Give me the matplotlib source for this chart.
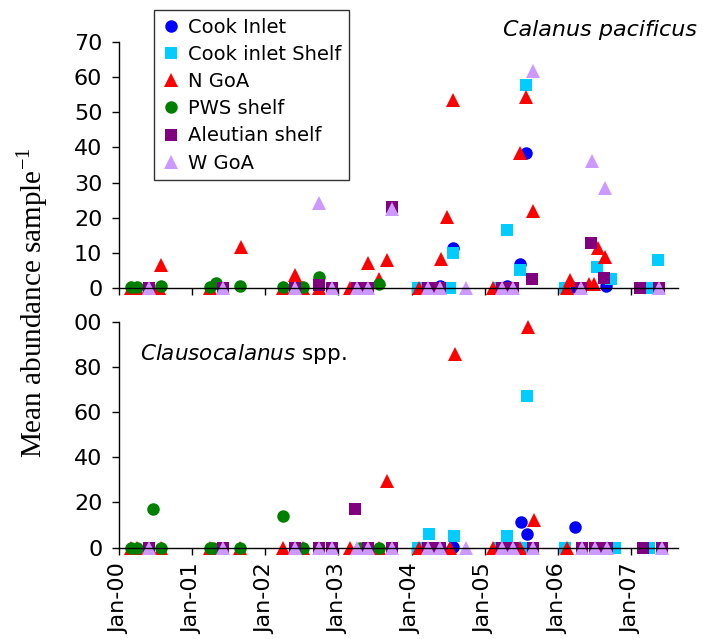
import matplotlib
matplotlib.use("Agg")
import matplotlib.pyplot as plt

plt.rcParams["font.family"] = ["DejaVu Sans"]
plt.rcParams["mathtext.fontset"] = "custom"
plt.rcParams["mathtext.rm"] = "Liberation Serif"
plt.rcParams["mathtext.it"] = "DejaVu Sans:italic"

# Sampling times (decimal years) and mean abundance per sample
# top = Calanus pacificus, bot = Clausocalanus spp.
cook_top_t = [2004.39, 2004.56, 2005.30, 2005.48, 2005.57, 2006.19, 2006.66]
cook_top_v = [0.5, 11.5, 0.7, 6.8, 38.5, 0.3, 0.5]
cook_bot_t = [2004.39, 2004.56, 2005.30, 2005.49, 2005.58, 2006.24, 2006.66]
cook_bot_v = [0, 0.5, 0, 11.5, 5.9, 9.2, 0]

shelf_top_t = [2004.09, 2004.52, 2004.56, 2005.19, 2005.31, 2005.48, 2005.56,
               2006.10, 2006.54, 2006.73, 2007.25, 2007.37]
shelf_top_v = [0, 0, 9.9, 0, 16.5, 5.1, 57.8, 0, 6.1, 2.5, 0, 8.0]
shelf_bot_t = [2004.09, 2004.24, 2004.58, 2005.19, 2005.31, 2005.53, 2005.58,
               2006.10, 2006.78, 2007.25]
shelf_bot_v = [0, 5.9, 5.3, 0, 5.3, 0, 67.1, 0, 0, 0]

ngoa_top_t = [2000.16, 2000.25, 2000.55, 2000.58, 2001.24, 2001.67, 2002.24,
              2002.41, 2002.51, 2002.74, 2003.16, 2003.40, 2003.56, 2003.66,
              2004.10, 2004.40, 2004.48, 2004.57, 2005.12, 2005.48, 2005.57,
              2005.66, 2006.13, 2006.16, 2006.42, 2006.49, 2006.55, 2006.64]
ngoa_top_v = [0, 0, 0, 6.5, 0, 11.8, 0, 3.7, 0, 0, 0, 7.2, 2.5, 8.0,
              0, 8.2, 20.3, 53.5, 0, 38.5, 54.4, 22.0, 0, 2.3, 1.2, 1.2, 11.3, 8.9]
ngoa_bot_t = [2000.16, 2000.25, 2000.57, 2001.24, 2001.66, 2002.24, 2002.51,
              2003.16, 2003.56, 2003.67, 2004.10, 2004.52, 2004.59, 2005.12,
              2005.48, 2005.59, 2005.68, 2006.13]
ngoa_bot_v = [0, 0, 0, 0, 0, 0, 0, 0, 0, 29.6, 0, 0, 85.6, 0, 0, 97.5, 12.3, 0]

pws_top_t = [2000.16, 2000.25, 2000.57, 2001.24, 2001.33, 2001.66, 2002.24,
             2002.51, 2002.74, 2003.56]
pws_top_v = [0.3, 0.3, 0.5, 0.2, 1.3, 0.5, 0.2, 0.2, 3.0, 1.1]
pws_bot_t = [2000.16, 2000.25, 2000.47, 2000.57, 2001.24, 2001.29, 2001.66,
             2002.24, 2002.51, 2003.30, 2003.56]
pws_bot_v = [0, 0, 17.0, 0, 0, 0, 0, 14.0, 0, 0, 0]

aleu_top_t = [2000.41, 2001.42, 2002.41, 2002.74, 2002.91, 2003.25, 2003.41,
              2003.73, 2004.23, 2004.39, 2005.23, 2005.39, 2005.65, 2006.32,
              2006.46, 2006.63, 2007.12, 2007.38]
aleu_top_v = [0, 0, 0, 0.9, 0, 0, 0, 23.0, 0, 0, 0, 0, 2.7, 0, 12.9, 2.8, 0, 0]
aleu_bot_t = [2000.41, 2001.42, 2002.41, 2002.74, 2002.91, 2003.23, 2003.41,
              2003.73, 2004.23, 2004.39, 2005.23, 2005.39, 2005.66, 2006.33,
              2006.51, 2006.67, 2007.16, 2007.42]
aleu_bot_v = [0, 0, 0, 0, 0, 17.0, 0, 0, 0, 0, 0, 0, 0, 0, 0, 0, 0, 0]

wgoa_top_t = [2000.41, 2001.42, 2002.41, 2002.74, 2002.91, 2003.25, 2003.41,
              2003.73, 2004.23, 2004.39, 2004.74, 2005.23, 2005.39, 2005.66,
              2006.32, 2006.47, 2006.64, 2007.38]
wgoa_top_v = [0, 0, 0, 24.1, 0, 0, 0, 22.5, 0, 0, 0, 0, 0, 61.8, 0, 36.1, 28.4, 0]
wgoa_bot_t = [2000.41, 2001.42, 2002.41, 2002.74, 2002.91, 2003.25, 2003.41,
              2003.73, 2004.23, 2004.39, 2004.74, 2005.23, 2005.39, 2005.66,
              2006.33, 2006.51, 2006.67, 2007.42]
wgoa_bot_v = [0] * len(wgoa_bot_t)

year_ticks = [2000, 2001, 2002, 2003, 2004, 2005, 2006, 2007]
year_labels = ["Jan-00", "Jan-01", "Jan-02", "Jan-03", "Jan-04", "Jan-05",
               "Jan-06", "Jan-07"]

series = [
    ("Cook Inlet", "o", "#0000FF", 9, cook_top_t, cook_top_v, cook_bot_t, cook_bot_v),
    ("Cook inlet Shelf", "s", "#00CCFF", 8.5, shelf_top_t, shelf_top_v, shelf_bot_t, shelf_bot_v),
    ("N GoA", "^", "#FF0000", 10, ngoa_top_t, ngoa_top_v, ngoa_bot_t, ngoa_bot_v),
    ("PWS shelf", "o", "#008000", 9, pws_top_t, pws_top_v, pws_bot_t, pws_bot_v),
    ("Aleutian shelf", "s", "#800080", 8.5, aleu_top_t, aleu_top_v, aleu_bot_t, aleu_bot_v),
    ("W GoA", "^", "#CC99FF", 10, wgoa_top_t, wgoa_top_v, wgoa_bot_t, wgoa_bot_v),
]

fs = 16
fig = plt.figure(figsize=(7.03, 6.39), dpi=100)
ax1 = fig.add_axes([0.1693, 0.5493, 0.7951, 0.385])
ax2 = fig.add_axes([0.1693, 0.1429, 0.7951, 0.3537])

for name, mk, col, ms, tt, tv, bt, bv in series:
    ax1.plot(tt, tv, linestyle="none", marker=mk, ms=ms, color=col,
             mec=col, mew=0, clip_on=False, label=name)
    ax2.plot(bt, bv, linestyle="none", marker=mk, ms=ms, color=col,
             mec=col, mew=0, clip_on=False)

for ax in (ax1, ax2):
    ax.set_xlim(2000, 2007.643)
    ax.set_xticks(year_ticks)
    ax.spines["top"].set_visible(False)
    ax.spines["right"].set_visible(False)
    ax.tick_params(direction="out", length=5, width=1, labelsize=fs)
    ax.tick_params(axis="y", pad=7)
    ax.tick_params(axis="x", pad=6)
    for s in ("left", "bottom"):
        ax.spines[s].set_linewidth(1)

ax1.set_ylim(0, 70)
ax1.set_yticks([0, 10, 20, 30, 40, 50, 60, 70])
ax1.set_xticklabels([])

ax2.set_ylim(0, 100)
ax2.set_yticks([0, 20, 40, 60, 80, 100])
ax2.set_yticklabels(["0", "20", "40", "60", "80", "00"])
ax2.set_xticklabels(year_labels, rotation=90)

leg = ax1.legend(loc="upper left", bbox_to_anchor=(154 / 703, 1 - 10 / 639),
                 bbox_transform=fig.transFigure, borderaxespad=0,
                 numpoints=1, fontsize=14, frameon=True, fancybox=False,
                 handlelength=0.9, handletextpad=0.45, labelspacing=0.42,
                 borderpad=0.4)
leg.get_frame().set_edgecolor("black")
leg.get_frame().set_linewidth(1)

fig.text(0.9915, 0.953, "Calanus pacificus", ha="right", va="center",
         fontsize=16, style="italic")
ax2.text(0.037, 0.855, r"$\mathit{Clausocalanus}$ spp.", transform=ax2.transAxes,
         ha="left", va="center", fontsize=15.5)

fig.text(0.045, 0.527, r"Mean abundance sample$^{-1}$", rotation=90,
         ha="center", va="center", fontsize=21, family="Liberation Serif")

fig.savefig("out.png", dpi=100)
